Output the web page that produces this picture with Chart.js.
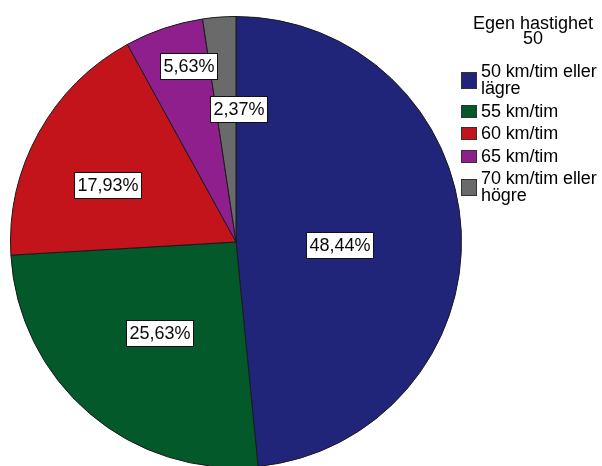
<!DOCTYPE html>
<html>
<head>
<meta charset="utf-8">
<script src="https://cdn.jsdelivr.net/npm/chart.js@4"></script>
<style>
  html, body { margin: 0; padding: 0; background: #fff; width: 602px; height: 466px; overflow: hidden; }
  #wrap { position: absolute; left: 10px; top: 16px; width: 452px; height: 452px; }
  #legendTitle {
    position: absolute; left: 458px; top: 16px; width: 150px;
    text-align: center; font: 18px/15px "Liberation Sans", Arial, sans-serif; color: #000;
  }
  #legend {
    position: absolute; left: 461px; top: 63px; width: 141px;
    font: 18px/17px "Liberation Sans", Arial, sans-serif; color: #000; letter-spacing: -0.1px;
  }
  .item { display: flex; align-items: center; margin-bottom: 5.5px; }
  .swatch { box-sizing: border-box; width: 16px; height: 13px; border: 1px solid #333; flex: none; margin-right: 4px; }
  .txt { width: 121px; }
</style>
</head>
<body>
<div id="wrap"><canvas id="pie" width="452" height="452"></canvas></div>
<div id="legendTitle">Egen hastighet<br>50</div>
<div id="legend"></div>
<script>
// data
const categories = ['50 km/tim eller lägre', '55 km/tim', '60 km/tim', '65 km/tim', '70 km/tim eller högre'];
const shares = [48.44, 25.63, 17.93, 5.63, 2.37];
const colors = ['#20257a', '#03592a', '#c2141a', '#8f1f8d', '#6a6a6a'];

// label placement (fraction of radius, angle shift in degrees)
const labelRadius = [0.46, 0.527, 0.624, 0.808, 0.589];
const labelShift = [4.7, -0.6, -5.2, 3.7, 5.4];

const sliceLabels = {
    id: 'sliceLabels',
    afterDatasetsDraw(chart) {
        const ctx = chart.ctx;
        const meta = chart.getDatasetMeta(0);
        ctx.save();
        ctx.font = '18px "Liberation Sans", Arial, sans-serif';
        ctx.textAlign = 'center';
        ctx.textBaseline = 'middle';
        meta.data.forEach((arc, i) => {
            const p = arc.getProps(['x', 'y', 'startAngle', 'endAngle', 'outerRadius'], true);
            const a = (p.startAngle + p.endAngle) / 2 + labelShift[i] * Math.PI / 180;
            const r = p.outerRadius * labelRadius[i];
            const x = p.x + Math.cos(a) * r;
            const y = p.y + Math.sin(a) * r;
            const text = shares[i].toFixed(2).replace('.', ',') + '%';
            const w = Math.round(ctx.measureText(text).width + 6);
            const h = 26;
            const bx = Math.round(x - w / 2), by = Math.round(y - h / 2);
            ctx.fillStyle = '#fff';
            ctx.fillRect(bx, by, w, h);
            ctx.strokeStyle = '#111';
            ctx.lineWidth = 1;
            ctx.strokeRect(bx + 0.5, by + 0.5, w, h);
            ctx.fillStyle = '#0a0a0a';
            ctx.fillText(text, bx + w / 2 + 0.5, by + h / 2 + 1);
        });
        ctx.restore();
    }
};

const chart = new Chart(document.getElementById('pie').getContext('2d'), {
    type: 'pie',
    data: {
        labels: categories,
        datasets: [{
            data: shares,
            backgroundColor: colors,
            borderColor: '#1a1a1a',
            borderWidth: 1
        }]
    },
    options: {
        responsive: false,
        animation: false,
        layout: { padding: 0 },
        plugins: {
            legend: { display: false },
            tooltip: { enabled: false }
        }
    },
    plugins: [sliceLabels]
});

// html legend built from the chart's own labels
const legendBox = document.getElementById('legend');
chart.options.plugins.legend.labels.generateLabels(chart).forEach(item => {
    const row = document.createElement('div');
    row.className = 'item';
    const sw = document.createElement('div');
    sw.className = 'swatch';
    sw.style.background = item.fillStyle;
    const t = document.createElement('div');
    t.className = 'txt';
    t.textContent = item.text;
    row.appendChild(sw);
    row.appendChild(t);
    legendBox.appendChild(row);
    if (t.offsetHeight > 20) sw.style.height = '17px';
});
</script>
</body>
</html>
